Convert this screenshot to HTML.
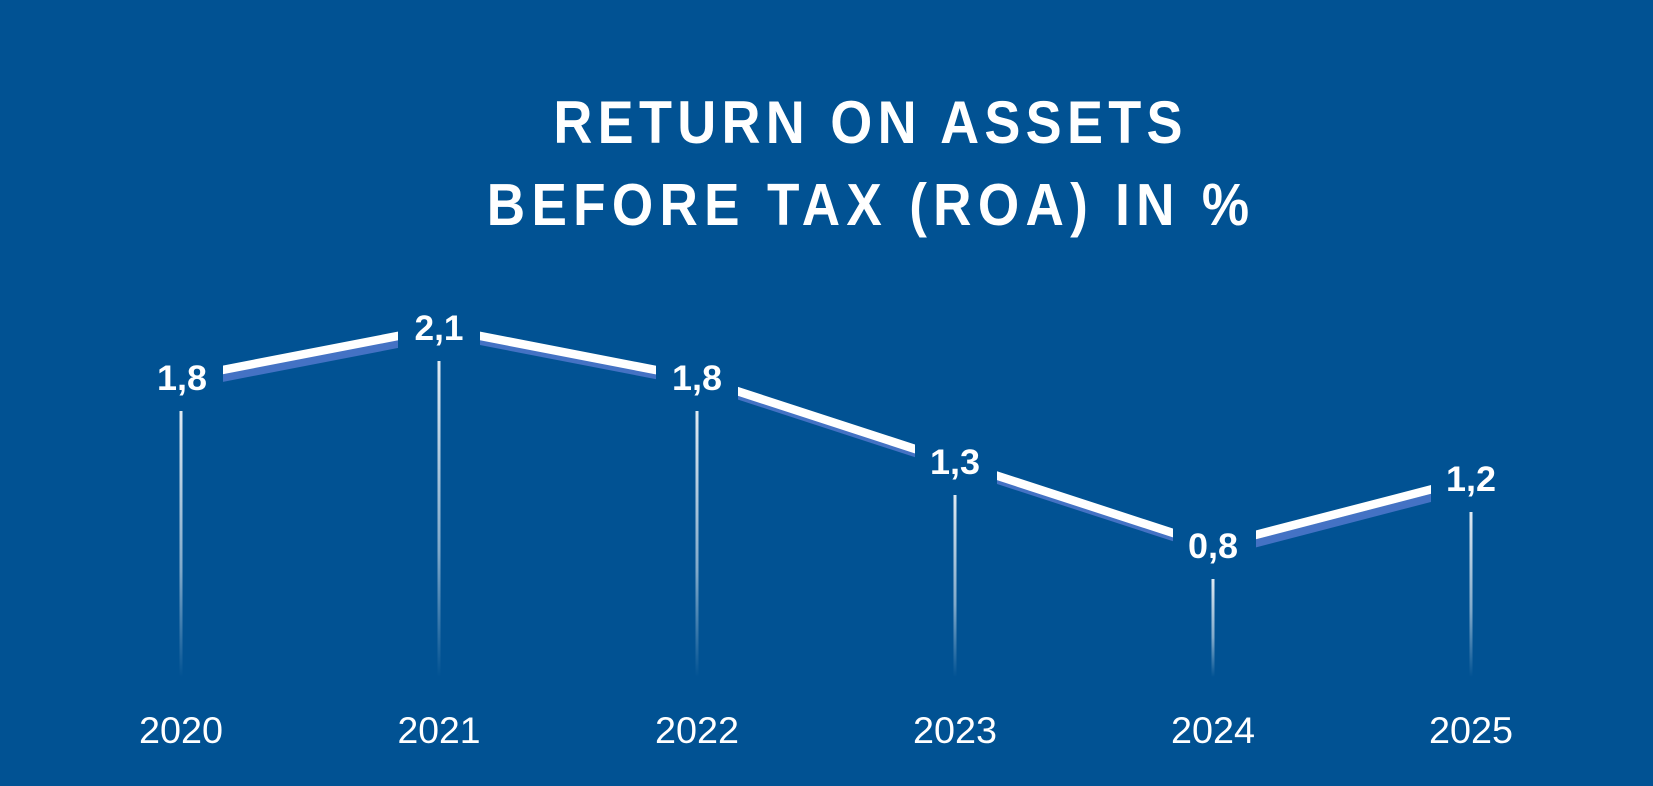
<!DOCTYPE html>
<html>
<head>
<meta charset="utf-8">
<style>
  html, body { margin: 0; padding: 0; background: #015293; }
  svg { display: block; }
  text { font-family: "Liberation Sans", "DejaVu Sans", sans-serif; fill: #ffffff; }
</style>
</head>
<body>
<svg width="1653" height="786" viewBox="0 0 1653 786" xmlns="http://www.w3.org/2000/svg">
  <defs>
    <linearGradient id="vg" x1="0" y1="0" x2="0" y2="1">
      <stop offset="0" stop-color="#ffffff" stop-opacity="0.88"/>
      <stop offset="0.6" stop-color="#ffffff" stop-opacity="0.5"/>
      <stop offset="1" stop-color="#ffffff" stop-opacity="0"/>
    </linearGradient>
  </defs>
  <rect x="0" y="0" width="1653" height="786" fill="#015293"/>

  <!-- Title (glyphs compressed horizontally, wider letter spacing) -->
  <g transform="scale(0.9,1)">
    <text x="964.4" y="143" text-anchor="middle" font-size="60" font-weight="bold" textLength="699" lengthAdjust="spacing">RETURN ON ASSETS</text>
    <text x="964.4" y="225" text-anchor="middle" font-size="59" font-weight="bold" textLength="847" lengthAdjust="spacing">BEFORE TAX (ROA) IN %</text>
  </g>

  <!-- shadow line -->
  <polyline points="188.5,384.5 446.5,334.5 704.5,384.5 962.5,468.5 1220.5,552.5 1478.5,485.5" fill="none" stroke="#4472C4" stroke-width="8" stroke-linejoin="miter"/>
  <!-- main white line -->
  <polyline points="181,378 439,328 697,378 955,462 1213,546 1471,479" fill="none" stroke="#ffffff" stroke-width="8.5" stroke-linejoin="miter"/>

  <!-- label background boxes to cut the line -->
  <g fill="#015293">
    <rect x="140" y="355" width="83" height="50"/>
    <rect x="398" y="305" width="82" height="50"/>
    <rect x="656" y="355" width="82" height="50"/>
    <rect x="915" y="439" width="82" height="50"/>
    <rect x="1173" y="523" width="83" height="50"/>
    <rect x="1431" y="456" width="82" height="50"/>
  </g>

  <!-- data labels -->
  <g font-size="35" font-weight="bold" text-anchor="middle">
    <text x="182" y="390" textLength="50" lengthAdjust="spacingAndGlyphs">1,8</text>
    <text x="439" y="340" textLength="49" lengthAdjust="spacingAndGlyphs">2,1</text>
    <text x="697" y="390" textLength="50" lengthAdjust="spacingAndGlyphs">1,8</text>
    <text x="955" y="474" textLength="50" lengthAdjust="spacingAndGlyphs">1,3</text>
    <text x="1213" y="558" textLength="50" lengthAdjust="spacingAndGlyphs">0,8</text>
    <text x="1471" y="491" textLength="50" lengthAdjust="spacingAndGlyphs">1,2</text>
  </g>

  <!-- vertical drop lines -->
  <rect x="179.5" y="411" width="3" height="266" fill="url(#vg)"/>
  <rect x="437.5" y="361" width="3" height="316" fill="url(#vg)"/>
  <rect x="695.5" y="411" width="3" height="266" fill="url(#vg)"/>
  <rect x="953.5" y="495" width="3" height="182" fill="url(#vg)"/>
  <rect x="1211.5" y="579" width="3" height="98" fill="url(#vg)"/>
  <rect x="1469.5" y="512" width="3" height="165" fill="url(#vg)"/>

  <!-- year labels -->
  <g font-size="37" text-anchor="middle">
    <text x="181" y="743" textLength="84" lengthAdjust="spacingAndGlyphs">2020</text>
    <text x="439" y="743" textLength="83" lengthAdjust="spacingAndGlyphs">2021</text>
    <text x="697" y="743" textLength="84" lengthAdjust="spacingAndGlyphs">2022</text>
    <text x="955" y="743" textLength="84" lengthAdjust="spacingAndGlyphs">2023</text>
    <text x="1213" y="743" textLength="84" lengthAdjust="spacingAndGlyphs">2024</text>
    <text x="1471" y="743" textLength="84" lengthAdjust="spacingAndGlyphs">2025</text>
  </g>
</svg>
</body>
</html>
